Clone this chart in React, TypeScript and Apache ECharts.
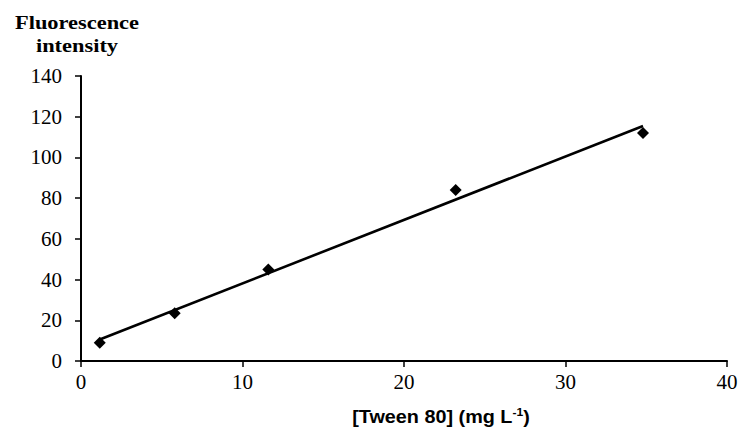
import React, { useEffect, useRef } from "react";
import * as echarts from "echarts";

const concentrations = [1.16, 5.8, 11.6, 23.2, 34.8];
const intensities = [9, 23.5, 45, 84, 112];
const xTicks = [0, 10, 20, 30, 40];
const yTicks = [0, 20, 40, 60, 80, 100, 120, 140];
const yTitleLines = ["Fluorescence", "intensity"];
const xTitle = "[Tween 80] (mg L";
const xTitleSup = "-1";

function fitLine(xs: number[], ys: number[]) {
  const n = xs.length;
  const mx = xs.reduce((a, b) => a + b, 0) / n;
  const my = ys.reduce((a, b) => a + b, 0) / n;
  let sxy = 0, sxx = 0;
  for (let i = 0; i < n; i++) {
    sxy += (xs[i] - mx) * (ys[i] - my);
    sxx += (xs[i] - mx) * (xs[i] - mx);
  }
  const slope = sxy / sxx;
  return { slope, intercept: my - slope * mx };
}

export default function App() {
  const ref = useRef<HTMLDivElement>(null);
  useEffect(() => {
    if (!ref.current) return;
    const chart = echarts.init(ref.current, null, { renderer: "svg" });
    const { slope, intercept } = fitLine(concentrations, intensities);
    const x0 = concentrations[0];
    const x1 = concentrations[concentrations.length - 1];
    const trend = [
      [x0, slope * x0 + intercept],
      [x1, slope * x1 + intercept],
    ];
    const serif = "Liberation Serif";
    const sans = "Liberation Sans";
    const tickRich = { t: { fontFamily: serif, fontSize: 21, color: "#000" } };
    chart.setOption({
      animation: false,
      backgroundColor: "#ffffff",
      textStyle: { fontFamily: serif, fontSize: 21, color: "#000" },
      grid: { left: 81, right: 14, top: 76, bottom: 69 },
      xAxis: {
        type: "value",
        min: xTicks[0],
        max: xTicks[xTicks.length - 1],
        interval: 10,
        axisLine: { lineStyle: { color: "#000", width: 2 } },
        axisTick: { show: true, length: 6, lineStyle: { color: "#000", width: 1.5 } },
        axisLabel: {
          color: "#000",
          fontFamily: serif,
          fontSize: 21,
          margin: 10,
          formatter: (v: number) => "{t|" + v + "}",
          rich: tickRich,
        },
        splitLine: { show: false },
      },
      yAxis: {
        type: "value",
        min: yTicks[0],
        max: yTicks[yTicks.length - 1],
        interval: 20,
        axisLine: { show: true, lineStyle: { color: "#000", width: 2 } },
        axisTick: { show: true, length: 6, lineStyle: { color: "#000", width: 1.5 } },
        axisLabel: {
          color: "#000",
          fontFamily: serif,
          fontSize: 21,
          margin: 19,
          formatter: (v: number) => "{t|" + v + "}",
          rich: tickRich,
        },
        splitLine: { show: false },
      },
      graphic: [
        {
          type: "text",
          x: 77,
          y: 34,
          scaleX: 1.18,
          style: {
            text: yTitleLines.join("\n"),
            fontFamily: serif,
            fontWeight: "bold",
            fontSize: 19,
            lineHeight: 23,
            fill: "#000",
            align: "center",
            verticalAlign: "middle",
          },
        },
        {
          type: "text",
          x: 441,
          y: 417,
          scaleX: 1.1,
          style: {
            text: "{a|" + xTitle + "}{s|" + xTitleSup + "}{a|)}",
            rich: {
              a: { fontFamily: sans, fontWeight: "bold", fontSize: 18, fill: "#000" },
              s: { fontFamily: sans, fontWeight: "bold", fontSize: 11, fill: "#000", verticalAlign: "top", padding: [0, 0, 9, 0] },
            },
            align: "center",
            verticalAlign: "middle",
          },
        },
      ],
      series: [
        {
          type: "line",
          data: trend,
          showSymbol: false,
          symbol: "none",
          lineStyle: { color: "#000", width: 2.6 },
          z: 2,
        },
        {
          type: "scatter",
          data: concentrations.map((x, i) => [x, intensities[i]]),
          symbol: "diamond",
          symbolSize: [12, 12],
          itemStyle: { color: "#000", opacity: 1 },
          z: 3,
        },
      ],
    });
    return () => chart.dispose();
  }, []);
  return (
    <div style={{ position: "fixed", left: 0, top: 0, width: 741, height: 430 }}>
      <div ref={ref} style={{ width: 741, height: 430 }} />
    </div>
  );
}
